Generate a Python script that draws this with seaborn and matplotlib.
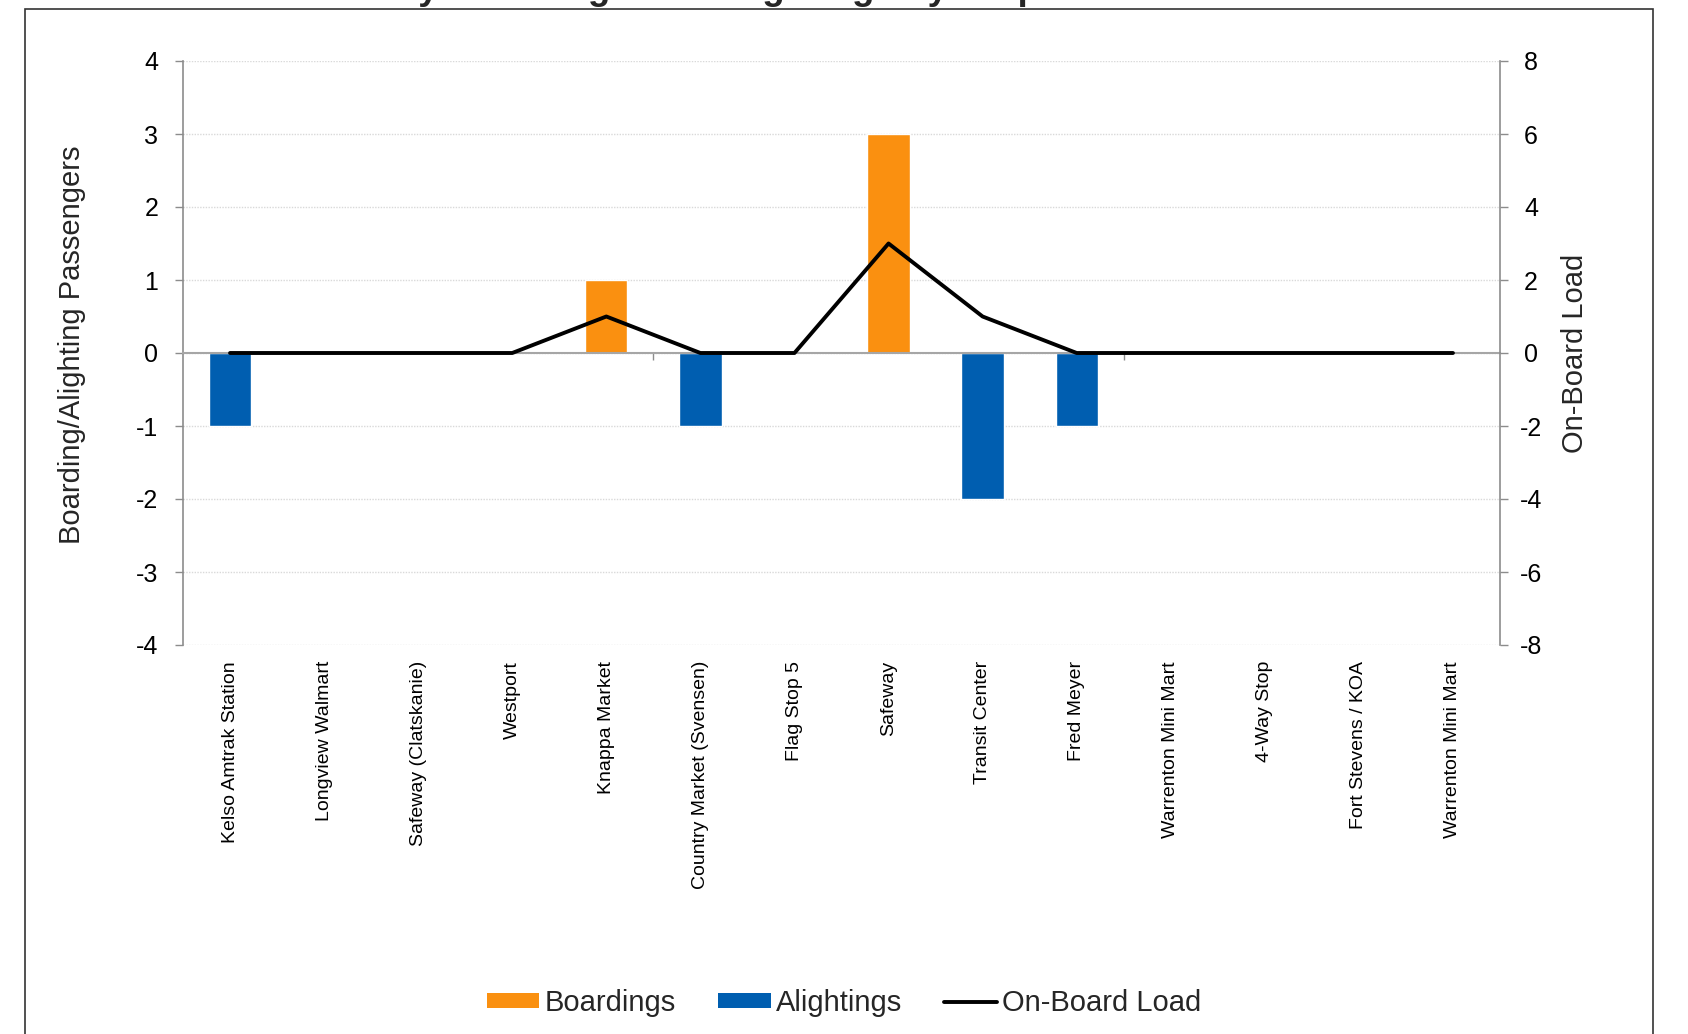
import numpy as np
import pandas as pd
import matplotlib
matplotlib.use("Agg")
import matplotlib.pyplot as plt
import seaborn as sns
from matplotlib import font_manager as fm
from matplotlib.patches import Rectangle, Patch
from matplotlib.lines import Line2D

# ---------------- data ----------------
stops = ["Kelso Amtrak Station", "Longview Walmart", "Safeway (Clatskanie)", "Westport",
         "Knappa Market", "Country Market (Svensen)", "Flag Stop 5", "Safeway",
         "Transit Center", "Fred Meyer", "Warrenton Mini Mart", "4-Way Stop",
         "Fort Stevens / KOA", "Warrenton Mini Mart"]
boardings = [0, 0, 0, 0, 1, 0, 0, 3, 0, 0, 0, 0, 0, 0]
alightings = [-1, 0, 0, 0, 0, -1, 0, 0, -2, -1, 0, 0, 0, 0]
onboard_load = [0, 0, 0, 0, 1, 0, 0, 3, 1, 0, 0, 0, 0, 0]
left_ticks = [-4, -3, -2, -1, 0, 1, 2, 3, 4]
right_ticks = [-8, -6, -4, -2, 0, 2, 4, 6, 8]
title = "Weekday Boardings and Alightings by Stop"
series_names = ["Boardings", "Alightings", "On-Board Load"]

ORANGE = "#FA9010"
BLUE = "#005EB0"
GRAY = "#8c8c8c"

sns.set_style("white")
plt.rcParams["font.family"] = ["Liberation Sans", "DejaVu Sans"]


def has_font(name):
    try:
        fm.findfont(fm.FontProperties(family=name), fallback_to_default=False)
        return True
    except Exception:
        return False


NARROW = has_font("Liberation Sans Narrow")
if NARROW:
    nfam = ["Liberation Sans Narrow", "Liberation Sans", "DejaVu Sans"]
    lab_size, leg_size, xt_size = 25, 25, 17
else:
    nfam = ["Liberation Sans", "DejaVu Sans"]
    lab_size, leg_size, xt_size = 21, 21, 14

W, H = 1688, 1034
fig = plt.figure(figsize=(W / 100, H / 100), dpi=100)
fig.patch.set_facecolor("white")

ax = fig.add_axes([183 / W, 1 - 645 / H, (1500 - 183) / W, (645 - 61) / H])

pos = list(range(len(stops)))
df = pd.DataFrame({"pos": pos, "Boardings": boardings,
                   "Alightings": alightings, "Load": onboard_load})

sns.barplot(data=df, x="pos", y="Boardings", order=pos, color=ORANGE, width=0.45,
            saturation=1, errorbar=None, ax=ax)
sns.barplot(data=df, x="pos", y="Alightings", order=pos, color=BLUE, width=0.45,
            saturation=1, errorbar=None, ax=ax)

ax.set_xlim(-0.5, len(stops) - 0.5)
ax.set_ylim(-4, 4)
ax.set_yticks(left_ticks)
ax.set_yticklabels([str(t) for t in left_ticks])
ax.set_xticks(pos)
ax.set_xticklabels(stops, rotation=90, family=nfam, fontsize=xt_size)
ax.set_xlabel("")
ax.set_ylabel("Boarding/Alighting Passengers", family=nfam, fontsize=lab_size)
ax.yaxis.set_label_coords(-0.0737, 0.514)
ax.grid(axis="y", linestyle=(0, (1, 1)), color="#d9d9d9", lw=1)
ax.grid(axis="x", visible=False)
ax.set_axisbelow(True)
for s in ["top", "right", "bottom"]:
    ax.spines[s].set_visible(False)
ax.spines["left"].set_color(GRAY)
ax.spines["left"].set_linewidth(1.2)
ax.tick_params(axis="y", direction="out", length=5.8, width=1, color=GRAY,
               labelsize=18, labelcolor="black", pad=12, left=True)
ax.tick_params(axis="x", length=0, pad=11.5, labelcolor="black")

# right axis with on-board load
ax2 = ax.twinx()
sns.lineplot(data=df, x="pos", y="Load", color="black", lw=2.8, ax=ax2)
ax2.set_ylim(-8, 8)
ax2.set_yticks(right_ticks)
ax2.set_yticklabels([str(t) for t in right_ticks])
ax2.set_xlim(-0.5, len(stops) - 0.5)
ax2.set_ylabel("On-Board Load", family=nfam, fontsize=lab_size, rotation=90)
ax2.yaxis.set_label_coords(1.046, 0.5)
for s in ["top", "left", "bottom"]:
    ax2.spines[s].set_visible(False)
ax2.spines["right"].set_color(GRAY)
ax2.spines["right"].set_linewidth(1.2)
ax2.tick_params(axis="y", direction="out", length=5.8, width=1, color=GRAY,
                labelsize=18, labelcolor="black", pad=16.5, right=True)
for t in ax2.get_yticklabels():
    t.set_horizontalalignment("center")
ax2.grid(False)

# zero line with group tick marks
ax3 = ax.twiny()
ax3.set_xlim(-0.5, len(stops) - 0.5)
ax3.set_xticks(np.arange(4.5, len(stops), 5))
ax3.tick_params(axis="x", direction="in", length=5, width=1, colors="#8c8c8c",
                labeltop=False, top=True, bottom=False)
ax3.spines["top"].set_position(("data", 0))
ax3.spines["top"].set_color("#a6a6a6")
ax3.spines["top"].set_linewidth(1.5)
for s in ["left", "right", "bottom"]:
    ax3.spines[s].set_visible(False)
ax3.grid(False)
ax3.patch.set_visible(False)
ax2.patch.set_visible(False)
ax.set_zorder(1)
ax3.set_zorder(2)
ax2.set_zorder(3)

# legend
handles = [Patch(facecolor=ORANGE, edgecolor="none", label=series_names[0]),
           Patch(facecolor=BLUE, edgecolor="none", label=series_names[1]),
           Line2D([], [], color="black", lw=2.8, label=series_names[2])]
fig.legend(handles=handles, loc="center", bbox_to_anchor=(844 / W, 1 - 1003 / H), ncol=3,
           frameon=False, handlelength=1.8, handleheight=0.45, handletextpad=0.17,
           columnspacing=1.46, prop=fm.FontProperties(family=nfam, size=leg_size))

# clipped title at the very top
fig.text(280 / W, 1 + 1 / H, title, ha="left", va="baseline", fontsize=26.5,
         fontweight="bold")

# outer frame
fig.add_artist(Rectangle((25 / W, -0.02), (1653 - 25) / W, (1 - 8.5 / H) + 0.02,
                         transform=fig.transFigure, fill=False, ec="#333333", lw=1.2))

fig.savefig("out.png", dpi=100)
